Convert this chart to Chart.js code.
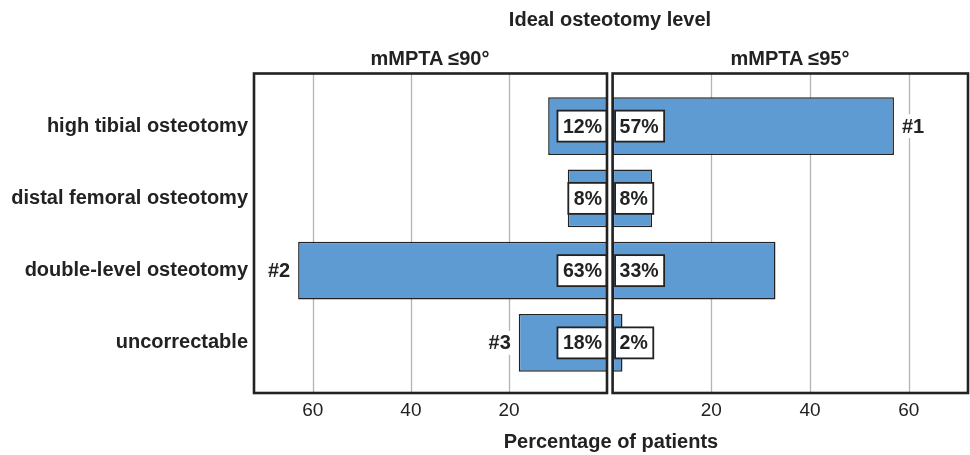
<!DOCTYPE html>
<html>
<head>
<meta charset="utf-8">
<script src="https://cdn.jsdelivr.net/npm/chart.js@4/dist/chart.umd.min.js"></script>
<style>
  html, body { margin: 0; padding: 0; background: #fff; }
  #wrap { position: relative; width: 970px; height: 455px; overflow: hidden; font-family: "Liberation Sans", Arial, sans-serif; color: #222; }
  .t { position: absolute; font-weight: bold; font-size: 20px; white-space: nowrap; transform: translate(-50%, -50%); line-height: 1; }
  #cL { position: absolute; left: 0; top: 0; }
  #cR { position: absolute; left: 611px; top: 0; }
</style>
</head>
<body>
<div id="wrap">
  <canvas id="cL" width="611" height="455"></canvas>
  <canvas id="cR" width="359" height="455"></canvas>
  <div class="t" style="left:610px; top:19px;">Ideal osteotomy level</div>
  <div class="t" id="titleL" style="left:430px; top:58px;">mMPTA ≤90°</div>
  <div class="t" id="titleR" style="left:790px; top:58px;">mMPTA ≤95°</div>
  <div class="t" style="left:611px; top:441px;">Percentage of patients</div>
</div>
<script>
// ---- data ----
const categories = ['high tibial osteotomy', 'distal femoral osteotomy', 'double-level osteotomy', 'uncorrectable'];
const valuesMPTA90 = [12, 8, 63, 18];
const valuesMPTA95 = [57, 8, 33, 2];
const notesMPTA90 = ['', '', '#2', '#3'];
const notesMPTA95 = ['#1', '', '', ''];
const tickValues = [20, 40, 60];
const axisMax = 72;

const BAR = 'rgb(95,155,211)';
const DARK = '#222';
const FONT = '"Liberation Sans", Arial, sans-serif';

// frame extends beyond chartArea vertically
const FRAME_TOP = 73.5, FRAME_BOTTOM = 393;

function panelPlugin(notes) {
  return {
    id: 'panel',
    beforeDatasetsDraw(chart) {
      const ctx = chart.ctx, xs = chart.scales.x;
      ctx.save();
      ctx.strokeStyle = '#b4b4b4';
      ctx.lineWidth = 1.3;
      tickValues.forEach(v => {
        const px = Math.round(xs.getPixelForValue(v)) + 0.5;
        ctx.beginPath();
        ctx.moveTo(px, FRAME_TOP);
        ctx.lineTo(px, FRAME_BOTTOM);
        ctx.stroke();
      });
      ctx.restore();
    },
    afterDatasetsDraw(chart) {
      const ctx = chart.ctx, ca = chart.chartArea;
      const meta = chart.getDatasetMeta(0);
      const data = chart.data.datasets[0].data;
      const reversed = chart.options.scales.x.reverse;
      ctx.save();
      // annotations (#1, #2, #3)
      ctx.font = 'bold 20px ' + FONT;
      ctx.textBaseline = 'middle';
      meta.data.forEach((bar, i) => {
        const note = notes[i];
        if (!note) return;
        const w = ctx.measureText(note).width;
        const gap = 8;
        let x0 = reversed ? bar.x - gap - w : bar.x + gap;
        ctx.fillStyle = '#fff';
        ctx.fillRect(x0 - 2, bar.y - 12, w + 4, 24);
        ctx.fillStyle = DARK;
        ctx.textAlign = 'left';
        ctx.fillText(note, x0, bar.y + 1);
      });
      // value boxes
      ctx.font = 'bold 19.5px ' + FONT;
      meta.data.forEach((bar, i) => {
        const txt = data[i] + '%';
        const w = ctx.measureText(txt).width;
        const bw = w + 10, bh = 31;
        const bx = reversed ? bar.base - bw - 0.5 : bar.base + 2.5;
        const by = bar.y - bh / 2;
        ctx.fillStyle = '#fff';
        ctx.fillRect(bx, by, bw, bh);
        ctx.strokeStyle = DARK;
        ctx.lineWidth = 1.8;
        ctx.strokeRect(bx, by, bw, bh);
        ctx.fillStyle = DARK;
        ctx.textAlign = 'center';
        ctx.fillText(txt, bx + bw / 2 + (reversed ? 0.5 : -0.5), bar.y + 1);
      });
      // frame
      ctx.strokeStyle = DARK;
      ctx.lineWidth = 2.6;
      ctx.strokeRect(ca.left, FRAME_TOP, ca.right - ca.left, FRAME_BOTTOM - FRAME_TOP);
      ctx.restore();
    }
  };
}

function makeChart(id, values, notes, isLeft) {
  return new Chart(document.getElementById(id), {
    type: 'bar',
    data: {
      labels: categories,
      datasets: [{
        data: values,
        backgroundColor: BAR,
        borderColor: DARK,
        borderWidth: 1.5,
        borderSkipped: false,
        barPercentage: 0.8,
        categoryPercentage: 1.0
      }]
    },
    options: {
      indexAxis: 'y',
      responsive: false,
      animation: false,
      devicePixelRatio: 1,
      layout: { padding: { top: 90, bottom: 0, left: isLeft ? 0 : 1.6, right: isLeft ? 4 : 2 } },
      plugins: { legend: { display: false }, tooltip: { enabled: false } },
      scales: {
        x: {
          type: 'linear',
          min: 0,
          max: axisMax,
          reverse: isLeft,
          afterBuildTicks: s => { s.ticks = tickValues.map(v => ({ value: v })); },
          afterFit: s => { s.height = 76; },
          grid: { display: false, drawTicks: false },
          border: { display: false },
          ticks: { padding: 20, color: DARK, font: { family: FONT, size: 19 }, maxRotation: 0, autoSkip: false }
        },
        y: {
          type: 'category',
          display: isLeft,
          afterFit: s => { s.width = isLeft ? 254 : 0; },
          grid: { display: false, drawTicks: false },
          border: { display: false },
          ticks: { padding: 6, color: DARK, font: { family: FONT, size: 20, weight: 'bold' } }
        }
      }
    },
    plugins: [panelPlugin(notes)]
  });
}

makeChart('cL', valuesMPTA90, notesMPTA90, true);
makeChart('cR', valuesMPTA95, notesMPTA95, false);
</script>
</body>
</html>
